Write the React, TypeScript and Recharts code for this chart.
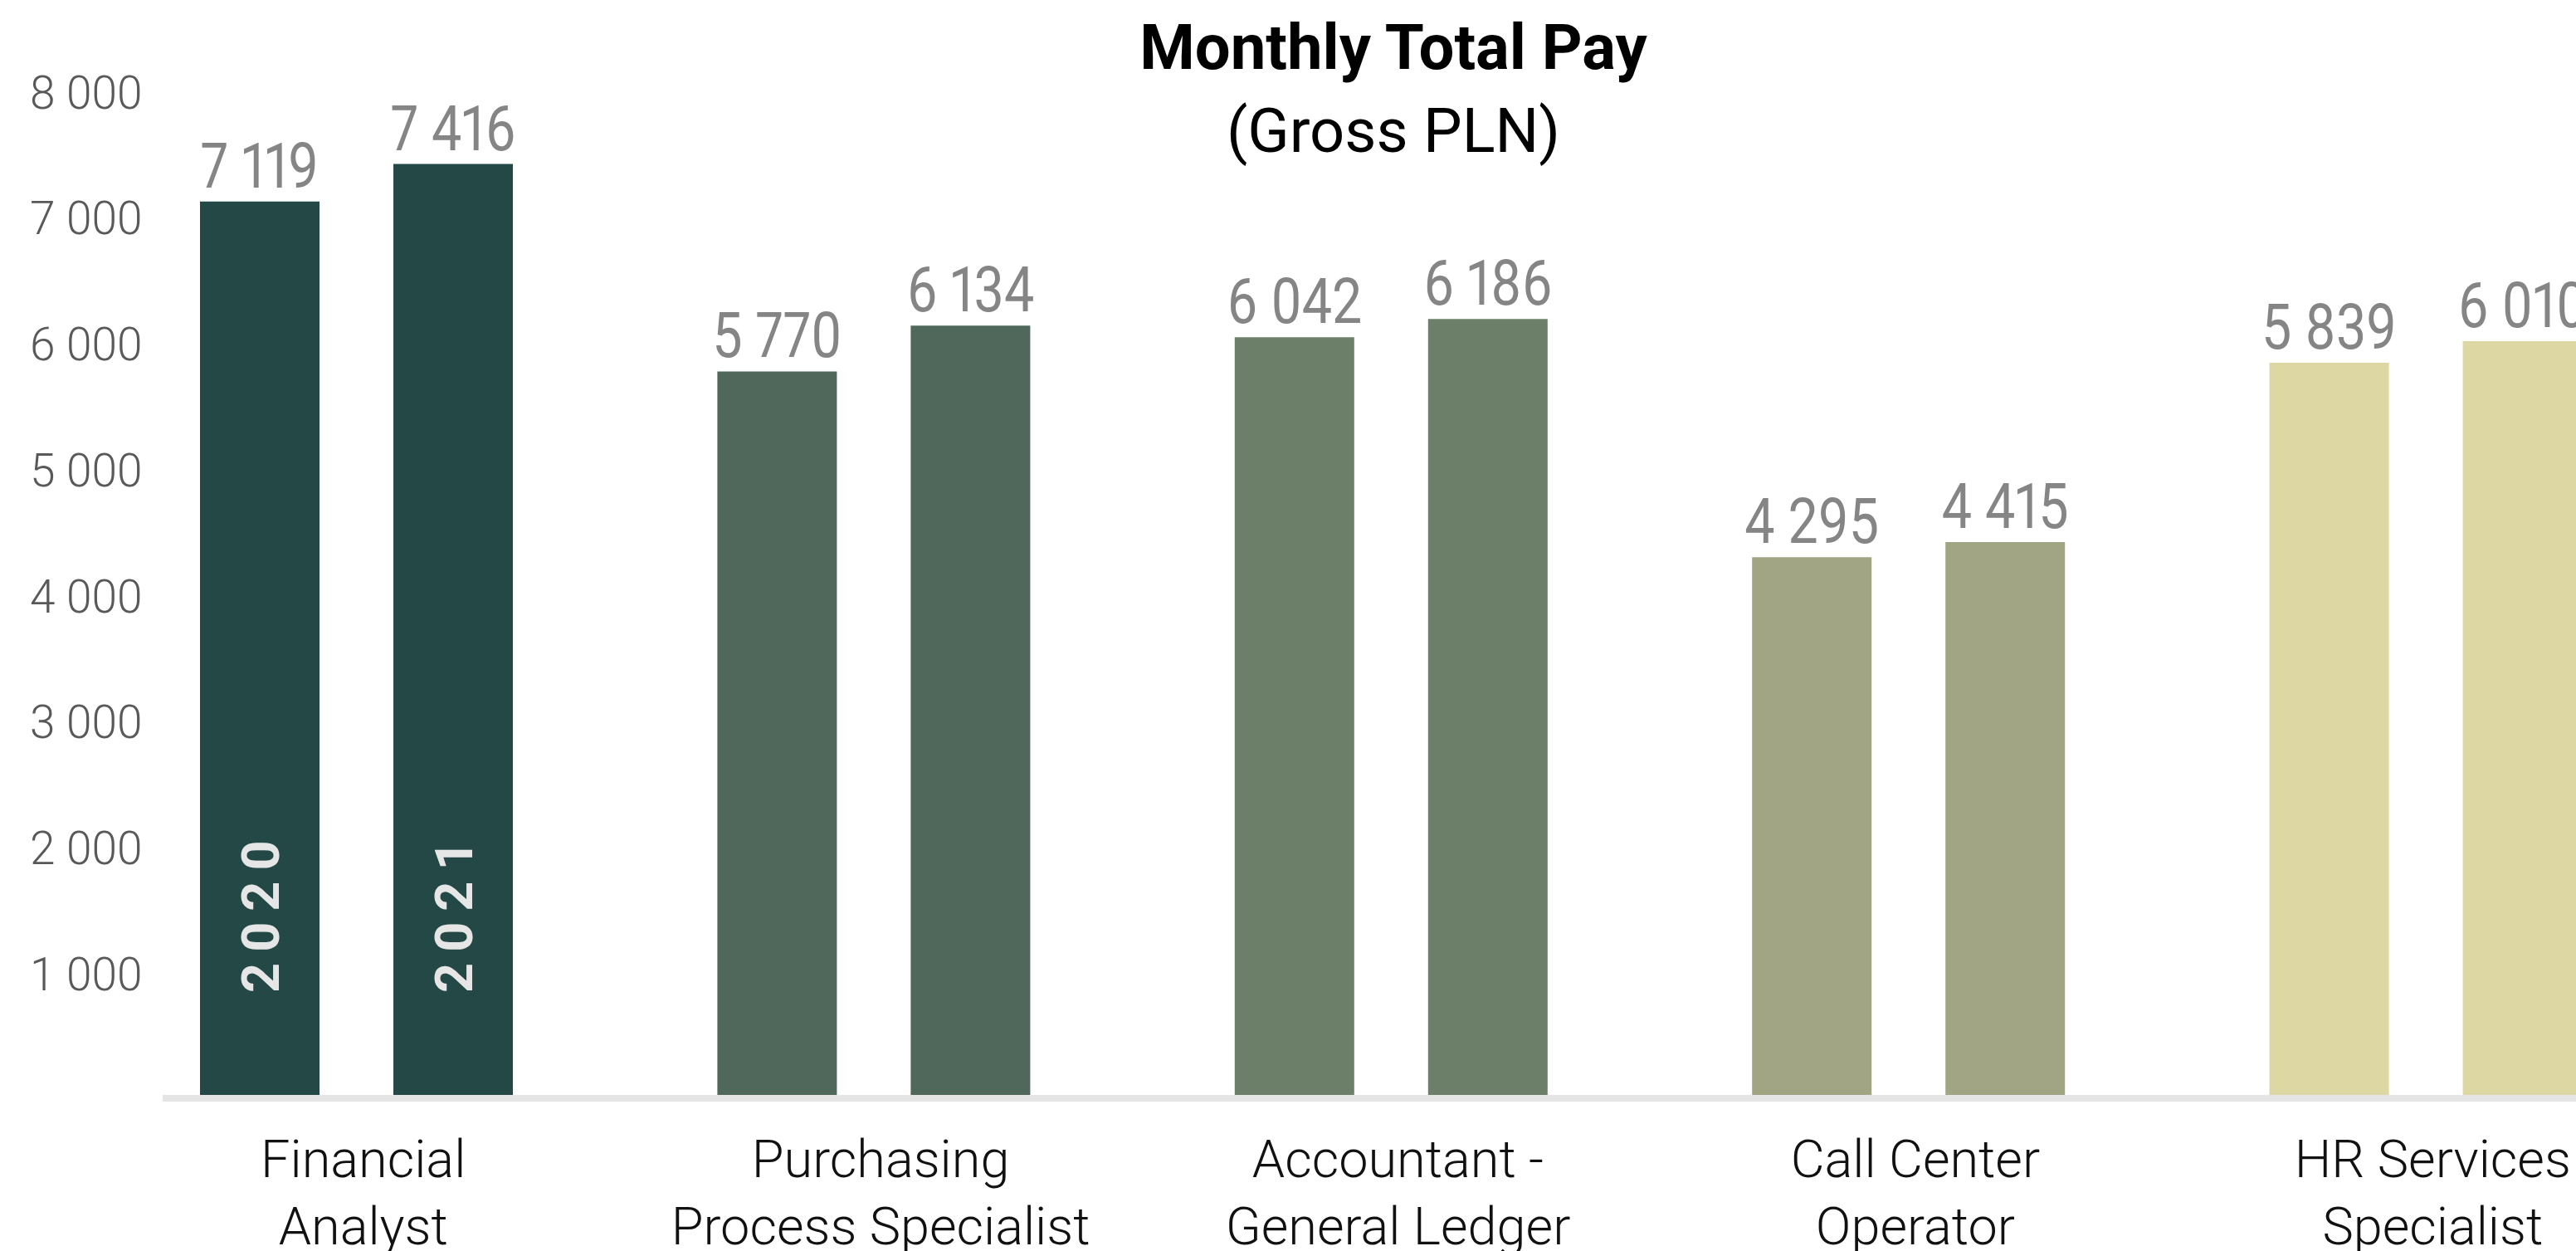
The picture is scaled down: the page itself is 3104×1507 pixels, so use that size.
import React from "react"
import { Bar, BarChart, Cell, LabelList, XAxis, YAxis } from "recharts"

const categories = [
  "Financial\nAnalyst",
  "Purchasing\nProcess Specialist",
  "Accountant -\nGeneral Ledger",
  "Call Center\nOperator",
  "HR Services\nSpecialist",
]
const years = ["2020", "2021"]
const pay2020 = [7119, 5770, 6042, 4295, 5839]
const pay2021 = [7416, 6134, 6186, 4415, 6010]
const yTicks = [1000, 2000, 3000, 4000, 5000, 6000, 7000, 8000]
// one shade per job, both years share it
const barColors = ["#234845", "#50685b", "#6b7f69", "#a1a583", "#ddd7a3"]

const data = categories.map((name, i) => ({ name, y2020: pay2020[i], y2021: pay2021[i] }))

const FONT = "Roboto, 'Noto Sans', sans-serif"

// "7119" -> "7 119"
const fmt = (v: number) => String(v).replace(/\B(?=(\d{3})+(?!\d))/g, " ")

function YTick({ y, payload }: any) {
  return (
    <text x={36} y={y + 2} dy="0.355em" textAnchor="start" fontFamily={FONT} fontWeight={300} fontSize={55} fill="#595959">
      {fmt(payload.value)}
    </text>
  )
}

function CategoryTick({ x, y, payload }: any) {
  const lines = String(payload.value).split("\n")
  return (
    <g>
      {lines.map((line, i) => (
        <text key={i} x={x + 8} y={y + 95 + i * 81} textAnchor="middle" fontFamily={FONT} fontWeight={300} fontSize={63} fill="#111">
          {line}
        </text>
      ))}
    </g>
  )
}

// value above the bar, squeezed a bit to look like the condensed original face
const valueLabel = (props: any) => {
  const { x, y, width, value } = props
  return (
    <text
      transform={`translate(${x + width / 2}, ${y - 17}) scale(0.85, 1)`}
      textAnchor="middle"
      fontFamily={FONT}
      fontSize={76}
      fill="#858585"
      style={{ fontVariantNumeric: "proportional-nums" }}
    >
      {fmt(Number(value))}
    </text>
  )
}

// year tag written up the first bar of each series
const yearTag = (year: string) => (props: any) => {
  const { x, y, width, height, index } = props
  if (index !== 0) return null
  const cx = x + width / 2
  const by = y + height - 127
  return (
    <text
      x={cx}
      y={by}
      dy="0.36em"
      transform={`rotate(-90, ${cx}, ${by})`}
      fontFamily={FONT}
      fontWeight={700}
      fontSize={63}
      letterSpacing={13}
      fill="#e6e6e6"
    >
      {year}
    </text>
  )
}

export default function App() {
  return (
    <div style={{ position: "absolute", left: 0, top: 0, width: 3104, height: 1507, overflow: "hidden", background: "#fff" }}>
      <BarChart
        width={3235}
        height={1507}
        data={data}
        margin={{ top: 109, right: 0, bottom: 0, left: 0 }}
        barSize={144}
        barGap={89}
      >
        <XAxis
          dataKey="name"
          height={184}
          padding={{ left: -78, right: 0 }}
          interval={0}
          axisLine={{ stroke: "#e5e5e5", strokeWidth: 8 }}
          tickLine={false}
          tickSize={0}
          tickMargin={0}
          tick={<CategoryTick />}
        />
        <YAxis width={196} domain={[0, 8000]} ticks={yTicks} axisLine={false} tickLine={false} tick={<YTick />} />
        <Bar dataKey="y2020" isAnimationActive={false}>
          {data.map((_, i) => (
            <Cell key={i} fill={barColors[i]} />
          ))}
          <LabelList dataKey="y2020" content={valueLabel} />
          <LabelList dataKey="y2020" content={yearTag(years[0])} />
        </Bar>
        <Bar dataKey="y2021" isAnimationActive={false}>
          {data.map((_, i) => (
            <Cell key={i} fill={barColors[i]} />
          ))}
          <LabelList dataKey="y2021" content={valueLabel} />
          <LabelList dataKey="y2021" content={yearTag(years[1])} />
        </Bar>
      </BarChart>
      <svg width={3104} height={220} style={{ position: "absolute", left: 0, top: 0, pointerEvents: "none" }}>
        <text x={1679} y={83} textAnchor="middle" fontFamily={FONT} fontWeight={700} fontSize={76} fill="#000">
          Monthly Total Pay
        </text>
        <text x={1679} y={183} textAnchor="middle" fontFamily={FONT} fontWeight={400} fontSize={74} fill="#000">
          (Gross PLN)
        </text>
      </svg>
    </div>
  )
}
